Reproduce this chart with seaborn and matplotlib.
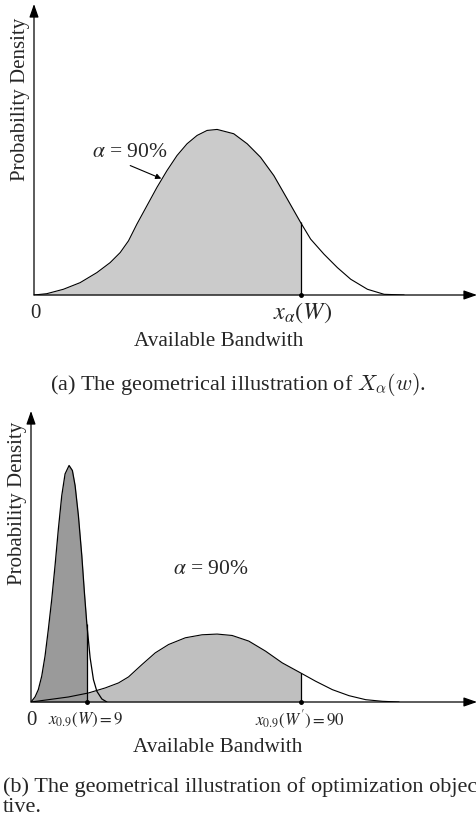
import numpy as np
import pandas as pd
import seaborn as sns
from matplotlib import pyplot as plt

# panel (a): one density curve, bandwidth vs density
bw_a = [0, 12.7, 29.3, 46, 62.7, 76, 86, 94.3, 102.7, 112.7, 122.7, 132.7, 142.7,
        152.7, 162.7, 172.7, 182.7, 199.3, 212.7, 226, 239.3, 252.7, 266, 276,
        289.3, 302.7, 316, 332.7, 349.3, 369.3]
dens_a = [0, 1.3, 5.7, 12.3, 22.3, 32.3, 42.3, 54, 70.7, 89, 107.3, 124, 139,
          150.7, 159, 164, 165, 160.7, 150.7, 137.3, 119, 95.7, 72.3, 55.7,
          40.7, 27.3, 15.7, 5.7, 0.7, 0]
q_a = 266

# panel (b): narrow curve (W) and wide curve (W')
bw_narrow = [0, 4, 7.3, 10.7, 14, 17.3, 20.7, 24, 27.3, 30.7, 34, 38, 41.3, 44,
             47.3, 50.7, 53.3, 55.7, 59, 62.3, 65.7, 70.7, 75.7]
dens_narrow = [0, 5, 12.3, 25.7, 45.7, 72.3, 102.3, 136, 172.3, 205.7, 227.3, 235.7,
               230.7, 215.7, 185.7, 145.7, 109, 78, 44, 22.3, 10.7, 3, 0]
q_narrow = 55.7

bw_wide = [0, 17.3, 37.3, 57.3, 74, 87.3, 97.3, 110.7, 124, 137.3, 154, 170.7,
           185.7, 200.7, 217.3, 234, 250.7, 269, 284, 300.7, 317.3, 334, 350.7, 367.3]
dens_wide = [0, 2.3, 5, 9, 14, 19, 25, 37.3, 49, 57.3, 64, 67, 67.7, 66.3, 60.7,
             50.7, 39, 29, 20.7, 12.3, 6.3, 2.3, 0.7, 0]
q_wide = 269

sns.set_style("white")
plt.rcParams['font.family'] = ['Liberation Serif', 'DejaVu Serif']
plt.rcParams['mathtext.fontset'] = 'stix'

W, H = 477, 819
fig = plt.figure(figsize=(W / 100, H / 100), dpi=100)


def make_axes(left, top_px, origin_px):
    # axes where one data unit is one pixel, origin at the arrow corner
    width = W - left
    height = origin_px - top_px
    ax = fig.add_axes([left / W, (H - origin_px) / H, width / W, height / H])
    ax.set_xlim(0, width - 1)
    ax.set_ylim(0, height - 1)
    sns.despine(ax=ax, left=True, bottom=True)
    ax.set_xticks([])
    ax.set_yticks([])
    arrow = dict(arrowstyle="-|>,head_length=0.8,head_width=0.28", color="black",
                 lw=0.9, mutation_scale=10, shrinkA=0, shrinkB=0)
    ax.annotate("", xy=(1, 0), xytext=(0, 0), xycoords="axes fraction",
                arrowprops=arrow, annotation_clip=False)
    ax.annotate("", xy=(0, 1), xytext=(0, 0), xycoords="axes fraction",
                arrowprops=arrow, annotation_clip=False)
    ax.patch.set_alpha(0)
    return ax


# ---------- (a) ----------
ax1 = make_axes(34, 4, 295)
x = np.array(bw_a)
y = np.array(dens_a)
ax1.fill_between(x, y, where=x <= q_a, color="#cbcbcb", linewidth=0)
sns.lineplot(x=bw_a, y=dens_a, ax=ax1, color="black", linewidth=0.8, estimator=None)
ax1.vlines(q_a, 0, dens_a[bw_a.index(q_a)], color="black", linewidth=0.9)
ax1.plot(q_a, 0, "o", color="black", markersize=2.5, clip_on=False)
ax1.text(96, 142, r"$\alpha$ = 90%", fontsize=15.5, ha="center", va="center")
ax1.annotate("", xy=(127, 116), xytext=(96, 129),
             arrowprops=dict(arrowstyle="-|>", color="black", lw=0.8, mutation_scale=8,
                             shrinkA=0, shrinkB=0))
ax1.text(1, -18, "0", fontsize=15, ha="center", va="center")
ax1.text(268, -18, r"$x_{\alpha}(W)$", fontsize=17.5, ha="center", va="center")
ax1.text(184, -46, "Available Bandwith", fontsize=15.3, ha="center", va="center")
ax1.text(-13, 195, "Probability Density", fontsize=15, ha="center", va="center",
         rotation=90)

fig.text(238 / W, 1 - 385 / H, r"(a) The geometrical illustration of $X_\alpha(w)$.",
         fontsize=16, ha="center", va="center", math_fontfamily="cm")

# ---------- (b) ----------
ax2 = make_axes(31, 411, 702)
xw = np.array(bw_wide)
yw = np.array(dens_wide)
xn = np.array(bw_narrow)
yn = np.array(dens_narrow)
ax2.fill_between(xw, yw, where=xw <= q_wide, color="#bfbfbf", linewidth=0)
ax2.fill_between(xn, yn, where=xn <= q_narrow, color="#9a9a9a", linewidth=0)
sns.lineplot(x=bw_wide, y=dens_wide, ax=ax2, color="black", linewidth=0.8, estimator=None)
sns.lineplot(x=bw_narrow, y=dens_narrow, ax=ax2, color="black", linewidth=0.9, estimator=None)
ax2.vlines(q_wide, 0, dens_wide[bw_wide.index(q_wide)], color="black", linewidth=0.9)
ax2.vlines(q_narrow, 0, dens_narrow[bw_narrow.index(q_narrow)], color="black", linewidth=0.9)
ax2.plot([q_narrow, q_wide], [0, 0], "o", color="black", markersize=2.5, clip_on=False)
ax2.text(179, 132, r"$\alpha$ = 90%", fontsize=15.5, ha="center", va="center")
ax2.text(0, -18, "0", fontsize=15, ha="center", va="center")
ax2.text(54, -18, r"$x_{0.9}(W) = 9$", fontsize=12.2, ha="center", va="center")
ax2.text(268, -18, r"$x_{0.9}(W') = 90$", fontsize=12.2, ha="center", va="center")
ax2.text(186, -45, "Available Bandwith", fontsize=15.3, ha="center", va="center")
ax2.text(-13, 198, "Probability Density", fontsize=15, ha="center", va="center",
         rotation=90)

fig.text(3 / W, 1 - 787 / H, "(b) The geometrical illustration of optimization objec",
         fontsize=16, ha="left", va="center")
fig.text(3 / W, 1 - 808 / H, "tive.", fontsize=16, ha="left", va="center")

fig.savefig("out.png", dpi=100)
